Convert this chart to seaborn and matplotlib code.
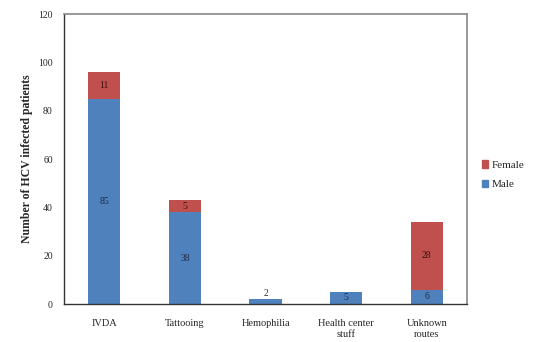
import matplotlib
matplotlib.use("Agg")
import matplotlib.pyplot as plt
import seaborn as sns
import pandas as pd
import numpy as np
from matplotlib.patches import Patch

categories = ["IVDA", "Tattooing", "Hemophilia", "Health center\nstuff", "Unknown\nroutes"]
male = [85, 38, 2, 5, 6]
female = [11, 5, 0, 0, 28]
yticks = [0, 20, 40, 60, 80, 100, 120]

sns.set_style("white")
plt.rcParams['font.family'] = ['Liberation Serif', 'DejaVu Serif']

blue = "#4F81BD"
red = "#C0504D"

df = pd.DataFrame({"cat": categories, "male": male, "female": female})
df["total"] = df["male"] + df["female"]

fig = plt.figure(figsize=(5.42, 3.42), dpi=100)
ax = fig.add_axes([0.118, 0.111, 0.744, 0.848])

sns.barplot(data=df, x="cat", y="total", color=red, width=0.4, saturation=1, linewidth=0, ax=ax)
sns.barplot(data=df, x="cat", y="male", color=blue, width=0.4, saturation=1, linewidth=0, ax=ax)

for i, (m, f) in enumerate(zip(male, female)):
    if m > 0:
        if m <= 3:
            ax.text(i, m + 0.5, str(m), ha="center", va="bottom", fontsize=7, color="#333333")
        else:
            ax.text(i, m / 2, str(m), ha="center", va="center", fontsize=7, color="#1f2a44")
    if f > 0:
        ax.text(i, m + f / 2, str(f), ha="center", va="center", fontsize=7, color="#3a1010")

ax.set_ylim(0, 120)
ax.set_xlim(-0.5, len(categories) - 0.5)
ax.set_yticks(yticks)
ax.set_yticklabels([str(v) for v in yticks], fontsize=7)
ax.set_xlabel("")
ax.set_ylabel("Number of HCV infected patients", fontsize=8.5, fontweight="bold")
ax.tick_params(axis="x", labelsize=7.5, length=0, pad=11)
ax.tick_params(axis="y", length=0, pad=8)
ax.set_xticks(np.arange(0.5, len(categories) - 0.5, 1), minor=True)
ax.tick_params(axis="x", which="minor", length=3, direction="inout", color="#333333")

for s in ["top", "right"]:
    ax.spines[s].set_color("#888888")
    ax.spines[s].set_linewidth(1.2)
for s in ["left", "bottom"]:
    ax.spines[s].set_color("#333333")
    ax.spines[s].set_linewidth(1.0)

handles = [Patch(color=red, label="Female"), Patch(color=blue, label="Male")]
fig.legend(handles=handles, loc="upper left", bbox_to_anchor=(0.87, 0.56), frameon=False,
           fontsize=8, handlelength=0.6, handleheight=0.6, handletextpad=0.3, labelspacing=0.9)

fig.savefig("out.png", dpi=100)
